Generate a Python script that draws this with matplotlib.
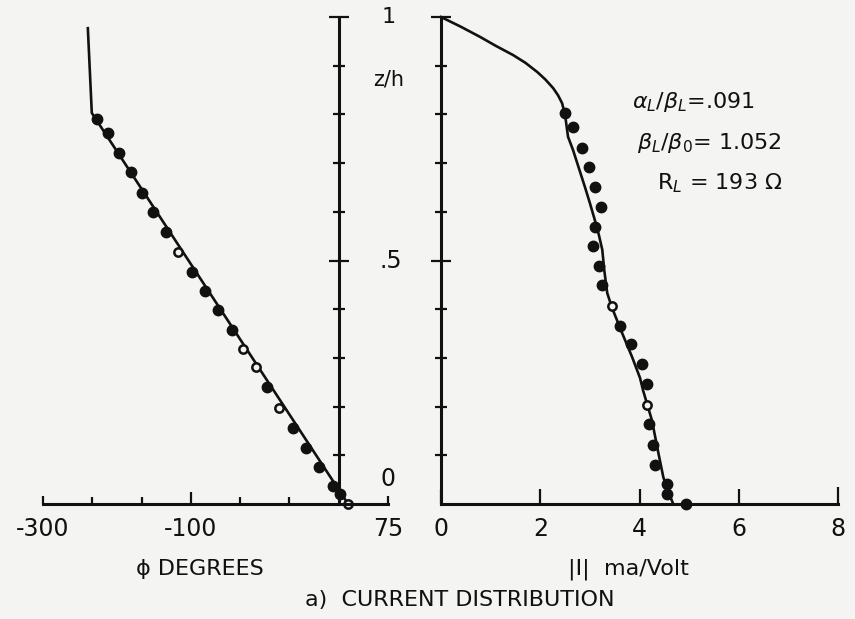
import numpy as np
import matplotlib.pyplot as plt

## ---------- data ----------
## left panel: phase, x given in divisions of the drawn scale (-300 at 0, -100 at 3, 75 at 7)
phi_curve_x = [0.91, 0.99, 6.19]
phi_curve_z = [0.977, 0.803, 0.0]
phi_meas_x = [1.10, 1.32, 1.54, 1.79, 2.01, 2.23, 2.50, 3.02, 3.29, 3.55, 3.83,
              4.54, 5.07, 5.34, 5.60, 5.88, 6.02]
phi_meas_z = [0.791, 0.762, 0.721, 0.682, 0.639, 0.600, 0.559, 0.476, 0.437, 0.398, 0.357,
              0.240, 0.156, 0.115, 0.076, 0.037, 0.021]
phi_open_x = [2.74, 4.06, 4.32, 4.79, 6.19]
phi_open_z = [0.517, 0.318, 0.281, 0.197, 0.0]
phi_tick_pos = [0, 3, 7]
phi_tick_lab = ["-300", "-100", "75"]

## right panel: |I| ma/Volt
amp_curve_x = [0.0, 0.40, 0.79, 1.10, 1.45, 1.70, 1.94, 2.10, 2.26, 2.36, 2.44, 2.50, 2.56,
               2.66, 2.78, 2.90, 3.00, 3.10, 3.18, 3.25, 3.29, 3.35, 3.45, 3.65, 3.85, 4.01,
               4.07, 4.16, 4.25, 4.38, 4.48, 4.58, 4.68]
amp_curve_z = [1.0, 0.980, 0.959, 0.941, 0.922, 0.906, 0.887, 0.872, 0.854, 0.839, 0.823,
               0.799, 0.754, 0.727, 0.689, 0.651, 0.618, 0.583, 0.553, 0.522, 0.480, 0.433,
               0.402, 0.351, 0.302, 0.259, 0.234, 0.203, 0.172, 0.105, 0.055, 0.025, 0.0]
amp_meas_x = [2.50, 2.66, 2.84, 2.98, 3.10, 3.23, 3.10, 3.06, 3.19, 3.25, 3.61, 3.83,
              4.05, 4.15, 4.19, 4.27, 4.31, 4.56, 4.56, 4.94]
amp_meas_z = [0.803, 0.774, 0.731, 0.692, 0.651, 0.610, 0.569, 0.530, 0.489, 0.450, 0.366,
              0.329, 0.287, 0.246, 0.164, 0.121, 0.080, 0.041, 0.020, 0.0]
amp_open_x = [3.45, 4.15]
amp_open_z = [0.407, 0.203]

params = [r"$\alpha_L/\beta_L$=.091", r"$\beta_L/\beta_0$= 1.052", r"R$_L$ = 193 $\Omega$"]
params_x = [3.85, 3.95, 4.35]
params_z = [0.825, 0.741, 0.659]

## ---------- style ----------
plt.rcParams["font.family"] = ["DejaVu Sans"]
plt.rcParams["mathtext.fontset"] = "dejavusans"
bg = "#f4f4f2"
ink = "#111111"
fs = 16

fig = plt.figure(figsize=(8.55, 6.19), dpi=100, facecolor=bg)
ax1 = fig.add_axes([43 / 855, 115 / 619, 345 / 855, 487 / 619], facecolor="none")
ax2 = fig.add_axes([441 / 855, 115 / 619, 397 / 855, 487 / 619], facecolor="none")

for ax in (ax1, ax2):
    ax.set_ylim(0, 1)
    for s in ("top", "right"):
        ax.spines[s].set_visible(False)
    for s in ("left", "bottom"):
        ax.spines[s].set_linewidth(2.2)
        ax.spines[s].set_color(ink)
    ax.set_yticks([0.5, 1.0])
    ax.set_yticks([0.1, 0.2, 0.3, 0.4, 0.6, 0.7, 0.8, 0.9], minor=True)
    ax.set_yticklabels([])
    ax.tick_params(axis="y", which="both", direction="inout", width=1.6, color=ink, left=True)
    ax.tick_params(axis="y", which="major", length=15)
    ax.tick_params(axis="y", which="minor", length=9)
    ax.tick_params(axis="x", which="both", direction="in", width=1.6, color=ink,
                   labelsize=fs + 1, pad=9, labelcolor=ink)

## left panel
ax1.set_xlim(0, 7)
ax1.spines["left"].set_position(("data", 6))
ax1.set_xticks(phi_tick_pos)
ax1.set_xticklabels(phi_tick_lab)
ax1.set_xticks([1, 2, 4, 5], minor=True)
ax1.tick_params(axis="x", which="major", length=6)
ax1.tick_params(axis="x", which="minor", length=5)
ax1.xaxis.get_major_ticks()[1].tick1line.set_markersize(9)

ax1.plot(phi_curve_x, phi_curve_z, color=ink, lw=1.9, clip_on=False)
ax1.plot(phi_meas_x, phi_meas_z, "o", color=ink, ms=7.5, clip_on=False)
ax1.plot(phi_open_x, phi_open_z, "o", mfc=bg, mec=ink, mew=1.8, ms=6, clip_on=False)
ax1.set_xlabel("ϕ DEGREES", fontsize=fs, color=ink)
ax1.xaxis.set_label_coords(0.455, -0.112)

## right panel
ax2.set_xlim(0, 8)
ax2.set_xticks([0, 2, 4, 6, 8])
ax2.tick_params(axis="x", which="major", length=11)
ax2.xaxis.get_major_ticks()[4].tick1line.set_markersize(12.5)

ax2.plot(amp_curve_x, amp_curve_z, color=ink, lw=1.9, clip_on=False)
ax2.plot(amp_meas_x, amp_meas_z, "o", color=ink, ms=7.5, clip_on=False)
ax2.plot(amp_open_x, amp_open_z, "o", mfc=bg, mec=ink, mew=1.8, ms=6, clip_on=False)
ax2.set_xlabel("|I|  ma/Volt", fontsize=fs, color=ink)
ax2.xaxis.set_label_coords(0.471, -0.112)

for t, x, z in zip(params, params_x, params_z):
    ax2.text(x, z, t, fontsize=fs, color=ink, va="center", ha="left")

## z/h scale labels sit between the two panels
ax2.text(-1.06, 1.0, "1", fontsize=fs, color=ink, ha="center", va="center", clip_on=False)
ax2.text(-1.06, 0.871, "z/h", fontsize=fs - 1, color=ink, ha="center", va="center", clip_on=False)
ax2.text(-1.02, 0.5, ".5", fontsize=fs + 1, color=ink, ha="center", va="center", clip_on=False)
ax2.annotate("0", xy=(-1.06, 0.0), xytext=(0, 9), textcoords="offset points",
             fontsize=fs + 1, color=ink, ha="center", va="bottom", annotation_clip=False)

fig.text(460 / 855, 1 - 600 / 619, "a)  CURRENT DISTRIBUTION", fontsize=fs, color=ink,
         ha="center", va="center")

plt.savefig("out.png", dpi=100, facecolor=bg)
